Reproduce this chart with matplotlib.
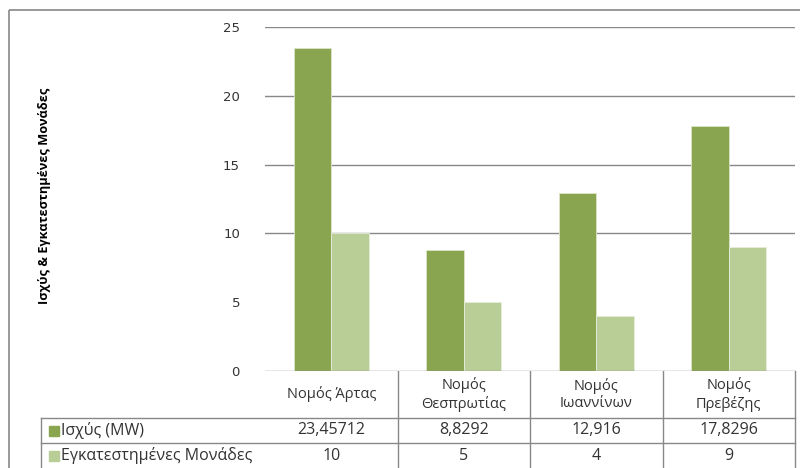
import matplotlib
matplotlib.use("Agg")
import matplotlib.pyplot as plt
from matplotlib.lines import Line2D
from matplotlib.patches import Rectangle

plt.rcParams['font.family'] = ['Open Sans', 'DejaVu Sans']

categories = ["Νομός Άρτας", "Νομός\nΘεσπρωτίας", "Νομός\nΙωαννίνων", "Νομός\nΠρεβέζης"]
series_names = ["Ισχύς (MW)", "Εγκατεστημένες Μονάδες"]
power_mw = [23.45712, 8.8292, 12.916, 17.8296]
units = [10, 5, 4, 9]
power_labels = ["23,45712", "8,8292", "12,916", "17,8296"]
unit_labels = ["10", "5", "4", "9"]
yticks = [0, 5, 10, 15, 20, 25]
ylabel = "Ισχύς & Εγκατεστημένες Μονάδες"

dark = "#8AA54F"
light = "#B9CE96"
grid_c = "#888888"
text_c = "#333333"

W, H = 800, 468
fig = plt.figure(figsize=(8, 4.68), dpi=100)

# page overlay in pixel coordinates for frame and table
bg = fig.add_axes([0, 0, 1, 1])
bg.set_xlim(0, W)
bg.set_ylim(H, 0)
bg.axis("off")

# plot area
x0, x1, ytop, ybot = 265, 795, 27, 371
ax = fig.add_axes([x0 / W, (H - ybot) / H, (x1 - x0) / W, (ybot - ytop) / H])
ax.set_xlim(-0.5, len(categories) - 0.5)
ax.set_ylim(0, 25)
for s in ax.spines.values():
    s.set_visible(False)
ax.set_xticks([])
ax.set_yticks(yticks)
ax.set_yticklabels([str(t) for t in yticks], fontsize=9.5, color=text_c,
                   family=['DejaVu Sans'])
ax.tick_params(axis='y', length=0, pad=18)
for t in yticks:
    if t in (0, 5):
        continue
    ax.axhline(t, color=grid_c, lw=1.0, zorder=0)
ax.axhline(0, color=grid_c, lw=1.0, zorder=3)

bw = 0.283
xs = list(range(len(categories)))
ax.bar([x - bw / 2 for x in xs], power_mw, width=bw, color=dark,
       edgecolor="#DCE6C8", linewidth=0.6, zorder=2)
ax.bar([x + bw / 2 for x in xs], units, width=bw, color=light,
       edgecolor="#E6EEDA", linewidth=0.6, zorder=2)

# outer chart frame
bg.add_patch(Rectangle((9, 10), 820, 500, fill=False, edgecolor=grid_c, lw=1.2))

# y-axis title
bg.text(45, 196, ylabel, rotation=90, ha="center", va="center",
        fontsize=9.2, fontweight="bold", color="black")

# data table below the axis
fig.canvas.draw()
to_px = lambda xd: ax.transData.transform((xd, 0))[0]
bounds = [to_px(i - 0.5) for i in range(len(categories) + 1)]
centers = [to_px(i) for i in xs]
row1, row2, row3 = 418, 443, 468
tl = dict(color=grid_c, lw=1.0)
for y in (row1, row2):
    bg.add_line(Line2D([41, bounds[-1]], [y, y], **tl))
bg.add_line(Line2D([41, 41], [row1, H], **tl))
for b in bounds[1:]:
    bg.add_line(Line2D([b, b], [ybot, H], **tl))

for c, lab in zip(centers, categories):
    bg.text(c, (ybot + row1) / 2, lab, ha="center", va="center",
            fontsize=10.5, color=text_c, linespacing=1.25)
for c, v in zip(centers, power_labels):
    bg.text(c, (row1 + row2) / 2, v, ha="center", va="center",
            fontsize=11.5, color=text_c)
for c, v in zip(centers, unit_labels):
    bg.text(c, (row2 + row3) / 2, v, ha="center", va="center",
            fontsize=11.5, color=text_c)

for (y_a, y_b), name, col in zip([(row1, row2), (row2, row3)], series_names, [dark, light]):
    ym = (y_a + y_b) / 2
    bg.add_patch(Rectangle((49, ym - 5), 10, 10, color=col))
    bg.text(61, ym, name, ha="left", va="center", fontsize=11.5, color=text_c)

fig.savefig("out.png", dpi=100)
